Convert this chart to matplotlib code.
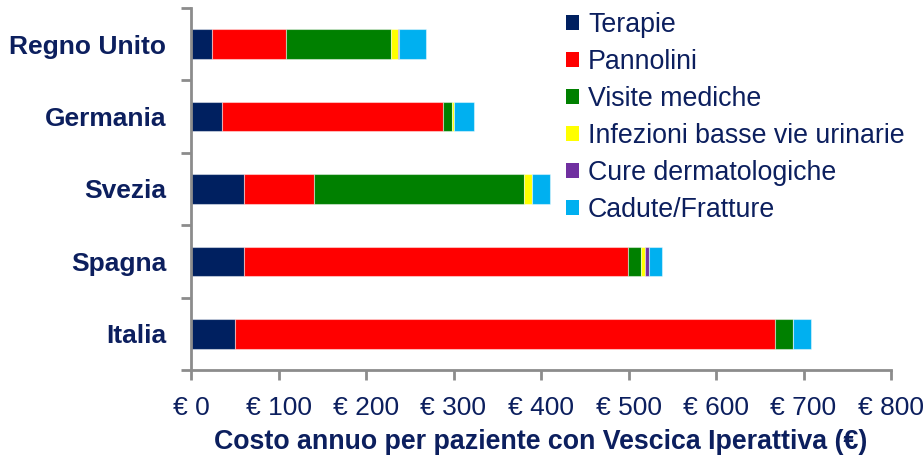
import matplotlib
matplotlib.use("Agg")
import matplotlib.pyplot as plt
from matplotlib.patches import Patch
from matplotlib.ticker import FixedLocator, FuncFormatter

plt.rcParams['font.family'] = ['Liberation Sans', 'DejaVu Sans']

countries = ["Italia", "Spagna", "Svezia", "Germania", "Regno Unito"]
series_names = ["Terapie", "Pannolini", "Visite mediche",
                "Infezioni basse vie urinarie", "Cure dermatologiche", "Cadute/Fratture"]
terapie   = [50, 60, 60, 35, 24]
pannolini = [617, 439, 80, 253, 85]
visite    = [21, 15, 240, 10, 120]
infezioni = [0, 5, 10, 2, 7]
cure      = [0, 4, 0, 1, 2]
cadute    = [20, 15, 20, 22, 30]
series = [terapie, pannolini, visite, infezioni, cure, cadute]
colors = ["#002060", "#FF0000", "#008000", "#FFFF00", "#7030A0", "#00B0F0"]
xticks = [0, 100, 200, 300, 400, 500, 600, 700, 800]

navy = "#0c1f5e"
gray = "#8c8c8c"

fig = plt.figure(figsize=(9.24, 4.58), dpi=100)
ax = fig.add_axes([191/924, 88/458, 700/924, 362/458])

y = list(range(len(countries)))
left = [0]*len(countries)
for vals, c, name in zip(series, colors, series_names):
    ax.barh(y, vals, left=left, height=0.41, color=c, edgecolor=(1, 1, 1, 0.45),
            linewidth=0.8, label=name)
    left = [l + v for l, v in zip(left, vals)]

ax.set_xlim(0, 800)
ax.set_ylim(-0.5, 4.5)
ax.set_xticks(xticks)
ax.xaxis.set_major_formatter(FuncFormatter(lambda v, p: f"€ {int(v)}"))
ax.set_yticks(y)
ax.set_yticklabels(countries)
ax.yaxis.set_minor_locator(FixedLocator([-0.5, 0.5, 1.5, 2.5, 3.5, 4.5]))

for s in ["top", "right"]:
    ax.spines[s].set_visible(False)
for s in ["left", "bottom"]:
    ax.spines[s].set_color(gray)
    ax.spines[s].set_linewidth(2)

ax.tick_params(axis="y", which="major", length=0, pad=18, labelsize=19,
               labelcolor=navy)
for t in ax.get_yticklabels():
    t.set_fontweight("bold")
ax.tick_params(axis="y", which="minor", length=7, width=2, color=gray)
ax.tick_params(axis="x", which="major", length=7, width=2, color=gray,
               labelsize=19, labelcolor=navy, pad=12)

ax.set_xlabel("Costo annuo per paziente con Vescica Iperattiva (€)",
              fontsize=19.3, fontweight="bold", color=navy, labelpad=6)

handles = [Patch(facecolor=c, edgecolor="none") for c in colors]
leg = fig.legend(handles, series_names, loc="upper left",
                 bbox_to_anchor=(566/924, (458-12)/458), frameon=False,
                 fontsize=19.3, handlelength=0.5, handleheight=0.5,
                 handletextpad=0.32, labelspacing=0.41, borderpad=0,
                 borderaxespad=0)
for t in leg.get_texts():
    t.set_color(navy)

fig.savefig("out.png", dpi=100)
